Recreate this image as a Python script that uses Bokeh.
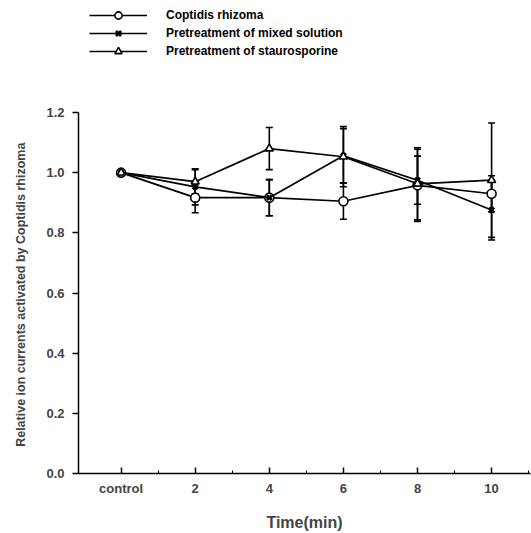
from bokeh.plotting import figure
from bokeh.layouts import column
from bokeh.models import (Range1d, FixedTicker, Legend, LegendItem, Whisker,
                          ColumnDataSource, TeeHead)
from bokeh.embed import file_html
from bokeh.resources import INLINE

times = [0, 2, 4, 6, 8, 10]
tick_labels = {0: "control", 2: "2", 4: "4", 6: "6", 8: "8", 10: "10"}
minor_ticks = [1, 3, 5, 7, 9, 11]

names = ["Coptidis rhizoma", "Pretreatment of mixed solution",
         "Pretreatment of staurosporine"]
coptidis = [1.0, 0.917, 0.917, 0.905, 0.958, 0.93]
coptidis_err = [0.0, 0.05, 0.06, 0.06, 0.12, 0.06]
mixed = [1.0, 0.953, 0.917, 1.056, 0.975, 0.876]
mixed_err = [0.0, 0.06, 0.06, 0.09, 0.08, 0.10]
stauro = [1.0, 0.97, 1.08, 1.053, 0.963, 0.975]
stauro_err = [0.0, 0.04, 0.07, 0.10, 0.12, 0.19]

FONT = "Liberation Sans"
TOP_H = 62

p = figure(width=531, height=533 - TOP_H, output_backend="svg",
           toolbar_location=None,
           x_range=Range1d(-1.15, 11.05), y_range=Range1d(0, 1.2),
           min_border_left=78, min_border_right=1, min_border_top=112 - TOP_H,
           min_border_bottom=59)
p.outline_line_color = None
p.grid.visible = False

# legend-only figure on top
lg = figure(width=531, height=TOP_H, output_backend="svg",
            toolbar_location=None, x_range=Range1d(0, 1), y_range=Range1d(0, 1),
            min_border=0)
lg.outline_line_color = None
lg.axis.visible = False
lg.grid.visible = False

series = [
    (coptidis, coptidis_err, "circle", "white", 9, 1.6),
    (mixed, mixed_err, "x", "black", 7, 2.8),
    (stauro, stauro_err, "triangle", "white", 8, 1.6),
]

items = []
for (vals, errs, marker, fill, size, mlw), name in zip(series, names):
    src = ColumnDataSource(dict(
        x=times, y=vals,
        lo=[v - e for v, e in zip(vals, errs)],
        hi=[v + e for v, e in zip(vals, errs)]))
    w = Whisker(source=src, base="x", lower="lo", upper="hi",
                line_color="black", line_width=1.6,
                upper_head=TeeHead(size=7, line_width=1.6, line_color="black"),
                lower_head=TeeHead(size=7, line_width=1.6, line_color="black"))
    p.add_layout(w)
    p.line("x", "y", source=src, line_color="black", line_width=1.7)
    p.scatter("x", "y", source=src, marker=marker, size=size,
              fill_color=fill, line_color="black", line_width=mlw)
    # off-screen stand-ins so the legend can draw its sample glyphs
    dummy = ColumnDataSource(dict(x=[-10, -9], y=[-10, -10]))
    ln = lg.line("x", "y", source=dummy, line_color="black", line_width=1.6)
    sc = lg.scatter("x", "y", source=dummy, marker=marker, size=size - 1,
                    fill_color=fill, line_color="black", line_width=mlw)
    items.append(LegendItem(label=name, renderers=[ln, sc]))

legend = Legend(items=items, location=(11, TOP_H - 6 - 54),
                orientation="vertical",
                glyph_width=58, glyph_height=18, label_height=18, spacing=0,
                label_standoff=19, padding=0, margin=0,
                border_line_color=None, background_fill_alpha=0,
                label_text_font=FONT, label_text_font_style="bold",
                label_text_font_size="12px", label_text_color="black")
lg.add_layout(legend, "center")

# x axis
xa = p.xaxis[0]
xa.ticker = FixedTicker(ticks=times, minor_ticks=minor_ticks)
xa.major_label_overrides = tick_labels
xa.major_tick_in = 6
xa.major_tick_out = 0
xa.minor_tick_in = 3
xa.minor_tick_out = 0
xa.axis_line_width = 1.5
xa.major_tick_line_width = 1.5
xa.axis_label = "Time(min)"
xa.axis_label_text_font = FONT
xa.axis_label_text_font_style = "bold"
xa.axis_label_text_font_size = "16px"
xa.axis_label_standoff = 15
xa.major_label_text_font = FONT
xa.major_label_text_font_style = "bold"
xa.major_label_text_font_size = "13px"
xa.major_label_standoff = 7

# y axis
ya = p.yaxis[0]
ya.ticker = FixedTicker(ticks=[0, 0.2, 0.4, 0.6, 0.8, 1.0, 1.2], minor_ticks=[])
ya.major_label_overrides = {0: "0.0", 0.2: "0.2", 0.4: "0.4", 0.6: "0.6",
                            0.8: "0.8", 1.0: "1.0", 1.2: "1.2"}
ya.major_tick_in = 0
ya.major_tick_out = 6
ya.axis_line_width = 1.5
ya.major_tick_line_width = 1.5
ya.axis_label = "Relative ion currents activated by  Coptidis rhizoma"
ya.axis_label_text_font = FONT
ya.axis_label_text_font_style = "bold"
ya.axis_label_text_font_size = "12.5px"
ya.axis_label_standoff = 15
ya.major_label_text_font = FONT
ya.major_label_text_font_style = "bold"
ya.major_label_text_font_size = "13px"
ya.major_label_standoff = 8

open("out.html", "w").write(file_html(column(lg, p, spacing=0), INLINE))
